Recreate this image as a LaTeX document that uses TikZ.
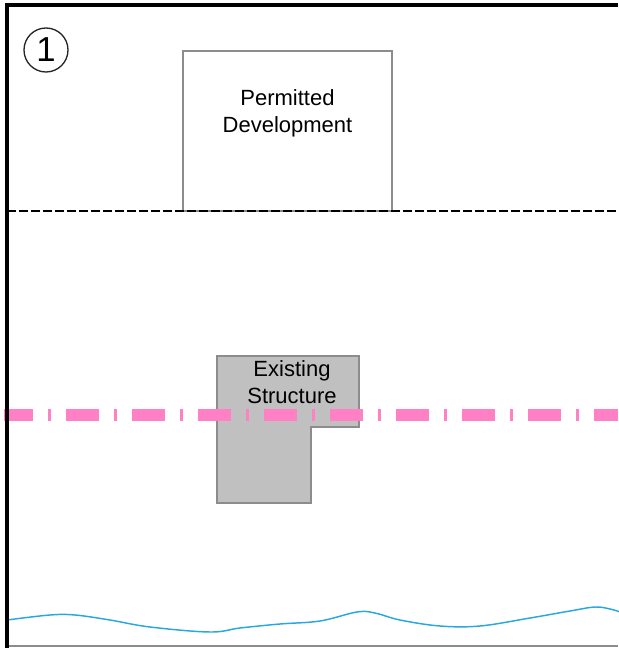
\documentclass[tikz,border=0pt]{standalone}
\usepackage{fontspec}
\setmainfont{Liberation Sans}
\usepackage{xcolor}
\usepackage{tikz}
\usetikzlibrary{calc,positioning}
\definecolor{pinkx}{HTML}{FF80C4}
\definecolor{riverx}{HTML}{29A8E0}
\definecolor{greyfill}{HTML}{C0C0C0}
\definecolor{greyedge}{HTML}{8C8C8C}
\tikzset{
  frm/.style={line width=2.4pt,black},
  bnd/.style={line width=1.1pt,black,dash pattern=on 6.75pt off 2.25pt},
  pdbox/.style={draw=greyedge,line width=1.1pt,fill=white,minimum width=156.75pt,minimum height=120pt,inner sep=0pt},
  exst/.style={draw=greyedge,line width=0.8pt,fill=greyfill},
  txt/.style={font=\fontsize{16.5}{20.25}\selectfont,align=center,inner sep=0pt},
  zone/.style={pinkx,line width=9pt,dash pattern=on 24.75pt off 11.25pt on 2.25pt off 11.25pt,dash phase=3pt},
  river/.style={riverx,line width=1.1pt},
  numc/.style={circle,draw=black!85,line width=1pt,minimum size=33pt,inner sep=0pt,font=\fontsize{26}{26}\selectfont}
}
\begin{document}
\begin{tikzpicture}[x=0.75pt,y=-0.75pt]
\useasboundingbox (0,0) rectangle (618,648);
\fill[white] (0,0) rectangle (618,648);
% permitted development zone
\node[pdbox] (pd) at (287.5,131) {};
\node[txt] (pdtxt) at (287.5,113.5) {Permitted\\Development};
\draw[bnd] (7,211)--(618,211);
% existing structure
\draw[exst] (217,356)--(359,356)--(359,427)--(311,427)--(311,503)--(217,503)--cycle;
\node[txt] (extxt) at (292,382.5) {Existing\\Structure};
\draw[zone] (4,415)--(618,415);
% watercourse
\draw[river] plot[smooth,tension=0.6] coordinates {(7,620) (50,615) (75,615) (110,620) (150,627) (210,632) (240,628) (280,624) (320,621) (357,612) (375,613) (400,620) (440,626) (480,626) (530,618) (570,611) (595,607) (610,609) (620,612)};
% site frame
\draw[greyedge,line width=1pt] (7,646)--(618,646);
\draw[frm] (618,5)--(7,5)--(7,648);
\node[numc] (num) at (46,50) {1};
\end{tikzpicture}
\end{document}
